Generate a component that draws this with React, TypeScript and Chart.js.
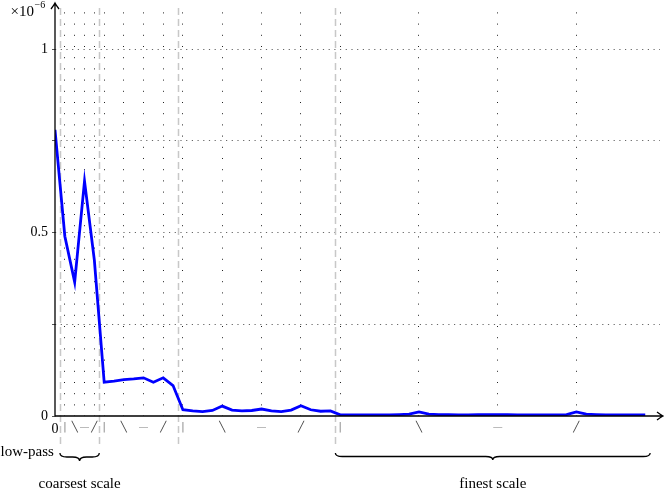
import React, { useEffect, useRef } from "react";
import { Chart, registerables } from "chart.js";

Chart.register(...registerables);

// Coefficient magnitudes (×10^-6), per scale block
const lowPass = [0.78];
const coarsestScale = [0.49, 0.365, 0.64, 0.425];
const scale2 = [0.092, 0.095, 0.099, 0.101, 0.104, 0.092, 0.104, 0.083];
const scale3 = [
  0.017, 0.014, 0.012, 0.015, 0.027, 0.016, 0.014, 0.015,
  0.019, 0.014, 0.012, 0.016, 0.028, 0.017, 0.013, 0.014,
];
const finestScale = [
  0.003, 0.003, 0.003, 0.003, 0.003, 0.003, 0.004, 0.005,
  0.011, 0.005, 0.004, 0.004, 0.003, 0.003, 0.004, 0.004,
  0.004, 0.004, 0.003, 0.003, 0.003, 0.003, 0.003, 0.004,
  0.011, 0.005, 0.004, 0.003, 0.003, 0.003, 0.003, 0.003,
];

const orientationLabels = ["|", "╲", "—", "╱"];
const orientationColors = ["#808080", "#3a3a3a", "#a8a8a8", "#3a3a3a"];
const yTickValues = [0, 0.25, 0.5, 0.75, 1];
const yTickText: Record<string, string> = { "0": "0", "0.5": "0.5", "1": "1" };

const blocks = [lowPass, coarsestScale, scale2, scale3, finestScale];

function buildLayout() {
  const points: { x: number; y: number }[] = [];
  const starts: number[] = [];
  let idx = 0;
  blocks.forEach((b) => {
    starts.push(idx);
    b.forEach((v) => points.push({ x: idx++, y: v }));
  });
  const xTicks: number[] = [0];
  const tickOrient: Record<number, number> = {};
  for (let i = 1; i < blocks.length; i++) {
    const n = blocks[i].length;
    for (let k = 0; k < 4; k++) {
      const v = starts[i] + (k * n) / 4;
      xTicks.push(v);
      tickOrient[v] = k;
    }
  }
  const separators = starts.slice(1).map((s) => s - 0.5);
  const total = idx;
  return { points, starts, xTicks, tickOrient, separators, total };
}

const SERIF = "'Liberation Serif', 'DejaVu Serif', serif";

function drawBrace(ctx: CanvasRenderingContext2D, x1: number, x2: number, y: number, h: number) {
  const m = (x1 + x2) / 2;
  const r = Math.min(7, (x2 - x1) / 4);
  const yh = y + h / 2;
  const yt = y + h;
  ctx.beginPath();
  ctx.moveTo(x1, y);
  ctx.quadraticCurveTo(x1, yh, x1 + r, yh);
  ctx.lineTo(m - r, yh);
  ctx.quadraticCurveTo(m, yh, m, yt);
  ctx.quadraticCurveTo(m, yh, m + r, yh);
  ctx.lineTo(x2 - r, yh);
  ctx.quadraticCurveTo(x2, yh, x2, y);
  ctx.stroke();
}

export default function App() {
  const canvasRef = useRef<HTMLCanvasElement | null>(null);

  useEffect(() => {
    const canvas = canvasRef.current;
    if (!canvas) return;
    const L = buildLayout();

    const overlay = {
      id: "overlay",
      beforeDatasetsDraw(chart: any) {
        const ctx = chart.ctx as CanvasRenderingContext2D;
        const xs = chart.scales.x;
        ctx.save();
        ctx.strokeStyle = "#c8c8c8";
        ctx.lineWidth = 1.5;
        ctx.setLineDash([7, 4]);
        L.separators.forEach((s) => {
          const px = Math.round(xs.getPixelForValue(s)) + 0.5;
          ctx.beginPath();
          ctx.moveTo(px, 8);
          ctx.lineTo(px, 445);
          ctx.stroke();
        });
        ctx.restore();
      },
      afterDraw(chart: any) {
        const ctx = chart.ctx as CanvasRenderingContext2D;
        const xs = chart.scales.x;
        const ys = chart.scales.y;
        const x0 = xs.getPixelForValue(0);
        const y0 = ys.getPixelForValue(0);
        ctx.save();
        // axes with arrows
        ctx.strokeStyle = "#000";
        ctx.lineWidth = 1.3;
        ctx.setLineDash([]);
        ctx.beginPath();
        ctx.moveTo(x0, y0 + 0.5);
        ctx.lineTo(x0, 3);
        ctx.moveTo(x0 - 4, 9);
        ctx.quadraticCurveTo(x0 - 1, 5, x0, 3);
        ctx.quadraticCurveTo(x0 + 1, 5, x0 + 4, 9);
        ctx.stroke();
        ctx.beginPath();
        ctx.moveTo(x0, y0);
        ctx.lineTo(663, y0);
        ctx.moveTo(657, y0 - 4);
        ctx.quadraticCurveTo(661, y0 - 1, 663, y0);
        ctx.quadraticCurveTo(661, y0 + 1, 657, y0 + 4);
        ctx.stroke();

        // exponent label
        ctx.fillStyle = "#000";
        ctx.textBaseline = "middle";
        ctx.textAlign = "right";
        ctx.font = `15px ${SERIF}`;
        ctx.fillText("×10", 34, 12);
        ctx.textAlign = "left";
        ctx.font = `10px ${SERIF}`;
        ctx.fillText("−6", 34.5, 5);

        // braces
        ctx.lineWidth = 1.3;
        const cL = xs.getPixelForValue(L.starts[1] - 0.5);
        const cR = xs.getPixelForValue(L.starts[2] - 0.5);
        drawBrace(ctx, cL, cR, 453, 8);
        const fL = xs.getPixelForValue(L.starts[4] - 0.5);
        const fR = xs.getPixelForValue(L.total - 0.5);
        drawBrace(ctx, fL, fR, 453, 7);

        ctx.font = `15px ${SERIF}`;
        ctx.textAlign = "right";
        ctx.fillText("low-pass", cL - 6, 452);
        ctx.textAlign = "center";
        ctx.fillText("coarsest scale", (cL + cR) / 2, 484);
        ctx.fillText("finest scale", (fL + fR) / 2, 484);
        ctx.restore();
      },
    };

    const chart = new Chart(canvas, {
      type: "line",
      data: {
        datasets: [
          {
            data: L.points,
            borderColor: "#0000ff",
            borderWidth: 2.8,
            pointRadius: 0,
            tension: 0,
            fill: false,
          },
        ],
      },
      options: {
        animation: false,
        responsive: true,
        maintainAspectRatio: false,
        layout: { padding: { top: 8, right: 4, left: 0, bottom: 0 } },
        plugins: { legend: { display: false }, tooltip: { enabled: false } },
        scales: {
          x: {
            type: "linear",
            min: 0,
            max: 61.5,
            afterBuildTicks: (scale: any) => {
              scale.ticks = L.xTicks.map((v) => ({ value: v }));
            },
            afterFit: (scale: any) => {
              scale.height = 74;
            },
            border: { display: false, dash: [1, 10.2] },
            grid: {
              color: (c: any) => (c.tick && c.tick.value === 0 ? "rgba(0,0,0,0)" : "#222"),
              lineWidth: 1,
              drawTicks: false,
            },
            ticks: {
              autoSkip: false,
              maxRotation: 0,
              padding: 5,
              callback: (v: any) => {
                const n = Number(v);
                if (n === 0) return "0";
                const k = L.tickOrient[n];
                return k === undefined ? "" : orientationLabels[k];
              },
              color: (c: any) => {
                const n = c.tick ? c.tick.value : 0;
                if (n === 0) return "#000";
                const k = L.tickOrient[n];
                return k === undefined ? "#000" : orientationColors[k];
              },
              font: (c: any) => {
                const n = c.tick ? c.tick.value : 0;
                return n === 0
                  ? { family: SERIF, size: 14 }
                  : { family: "'DejaVu Sans', sans-serif", size: 10 };
              },
            },
          },
          y: {
            type: "linear",
            min: 0,
            max: 1.1,
            afterBuildTicks: (scale: any) => {
              scale.ticks = yTickValues.map((v) => ({ value: v }));
            },
            afterFit: (scale: any) => {
              scale.width = 55;
            },
            border: { display: false, dash: [1.2, 4.5] },
            grid: {
              color: (c: any) => (c.tick && c.tick.value === 0 ? "rgba(0,0,0,0)" : "#666"),
              lineWidth: 1,
              drawTicks: true,
              tickLength: 3,
              tickColor: "#555",
            },
            ticks: {
              padding: 4,
              color: "#000",
              font: { family: SERIF, size: 14 },
              callback: (v: any) => yTickText[String(Number(v))] ?? "",
            },
          },
        },
      },
      plugins: [overlay],
    });

    return () => chart.destroy();
  }, []);

  return (
    <div style={{ position: "absolute", left: 0, top: 0, width: 664, height: 490, background: "#fff" }}>
      <canvas ref={canvasRef} />
    </div>
  );
}
